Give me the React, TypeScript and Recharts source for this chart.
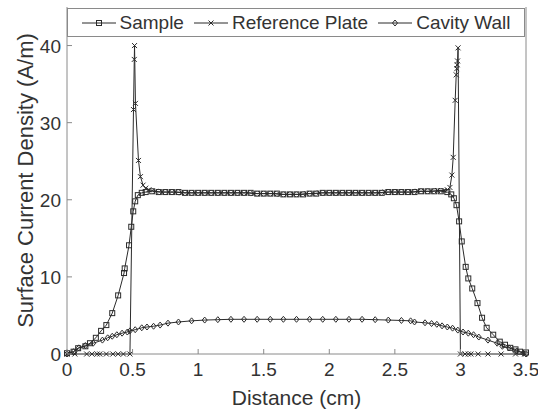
import { LineChart, Line, XAxis, YAxis } from "recharts"

// tick labels
const xTicks = [0, 0.5, 1, 1.5, 2, 2.5, 3, 3.5]
const yTicks = [0, 10, 20, 30, 40]

// Sample (squares)
const sampleX = [
    0, 0.05, 0.085, 0.14, 0.175, 0.22, 0.26, 0.3, 0.345, 0.39, 0.435, 0.44, 0.473, 0.49, 0.505, 0.52, 0.54, 0.57, 0.6, 0.65,
    0.7, 0.75, 0.8, 0.85, 0.9, 0.95, 1.0, 1.05, 1.1, 1.15, 1.2, 1.25, 1.3, 1.35, 1.4, 1.45, 1.5, 1.55, 1.6, 1.65, 1.7, 1.75,
    1.8, 1.85, 1.9, 1.95, 2.0, 2.05, 2.1, 2.15, 2.2, 2.25, 2.3, 2.35, 2.4, 2.45, 2.5, 2.55, 2.6, 2.65, 2.7, 2.75, 2.8,
    2.85, 2.9, 2.93, 2.95, 2.97, 2.99, 3.01, 3.04, 3.06, 3.09, 3.13, 3.165, 3.2, 3.25, 3.3, 3.34, 3.38, 3.42, 3.455, 3.5,
]
const sampleY = [
    0.1, 0.3, 0.75, 1.0, 1.4, 2.1, 3.0, 3.75, 5.3, 7.6, 10.5, 11.1, 14.1, 16.5, 18.5, 19.8, 20.6, 20.9, 21.0, 21.1,
    21.0, 21.0, 21.0, 21.0, 20.9, 20.9, 20.9, 20.9, 20.9, 20.9, 20.9, 20.9, 20.9, 20.9, 20.9, 20.8, 20.8, 20.8, 20.8, 20.7, 20.7, 20.7,
    20.7, 20.8, 20.8, 20.9, 20.9, 20.9, 20.9, 20.9, 20.9, 20.9, 20.9, 20.9, 20.9, 21.0, 21.0, 21.0, 21.0, 21.0, 21.1, 21.1, 21.1,
    21.1, 21.0, 20.7, 20.2, 19.3, 17.2, 14.6, 11.3, 9.8, 8.5, 6.6, 4.7, 3.4, 2.5, 1.6, 1.2, 0.8, 0.6, 0.3, 0.2,
]

// Reference Plate (crosses)
const refX = [
    0, 0.06, 0.15, 0.19, 0.23, 0.25, 0.3, 0.35, 0.39, 0.43, 0.48, 0.507, 0.513, 0.515, 0.522, 0.545, 0.56, 0.58, 0.6, 0.625,
    0.675, 0.725, 0.775, 0.825, 0.875, 0.925, 0.975, 1.025, 1.075, 1.125, 1.175, 1.225, 1.275, 1.325, 1.375, 1.425, 1.475,
    1.525, 1.575, 1.625, 1.675, 1.725, 1.775, 1.825, 1.875, 1.925, 1.975, 2.025, 2.075, 2.125, 2.175, 2.225, 2.275, 2.325,
    2.375, 2.425, 2.475, 2.525, 2.575, 2.625, 2.675, 2.725, 2.775, 2.825, 2.875, 2.9, 2.92, 2.935, 2.945, 2.96, 2.968,
    2.972, 2.975, 2.978, 2.982, 3.0, 3.035, 3.06, 3.08, 3.135, 3.21, 3.31, 3.42, 3.49,
]
const refY = [
    0, 0, 0, 0, 0, 0, 0, 0, 0, 0, 0, 31.7, 38.2, 40.0, 32.5, 25.1, 23.0, 21.9, 21.5, 21.3,
    21.1, 21.0, 21.0, 21.0, 20.9, 20.9, 20.9, 20.9, 20.9, 20.9, 20.9, 20.9, 20.9, 20.9, 20.9, 20.8, 20.8,
    20.8, 20.8, 20.7, 20.7, 20.7, 20.7, 20.8, 20.8, 20.9, 20.9, 20.9, 20.9, 20.9, 20.9, 20.9, 20.9, 20.9,
    20.9, 21.0, 21.0, 21.0, 21.0, 21.0, 21.1, 21.1, 21.1, 21.2, 21.2, 21.3, 21.6, 23.2, 25.5, 32.9, 36.2,
    37.0, 37.5, 38.0, 39.7, 0, 0, 0, 0, 0, 0, 0, 0, 0,
]

// Cavity Wall (diamonds)
const cavityX = [
    0, 0.05, 0.09, 0.14, 0.2, 0.27, 0.31, 0.345, 0.38, 0.42, 0.46, 0.48, 0.52, 0.57, 0.61, 0.66, 0.71, 0.77, 0.85, 0.95,
    1.05, 1.15, 1.25, 1.35, 1.45, 1.55, 1.65, 1.75, 1.85, 1.95, 2.05, 2.15, 2.25, 2.35, 2.45, 2.55, 2.62, 2.65, 2.73,
    2.78, 2.82, 2.86, 2.9, 2.94, 2.98, 3.02, 3.06, 3.1, 3.14, 3.21, 3.28, 3.32, 3.37, 3.43, 3.48, 3.5,
]
const cavityY = [
    0, 0.3, 0.8, 1.1, 1.4, 1.8, 2.1, 2.3, 2.5, 2.7, 2.85, 3.0, 3.15, 3.4, 3.5, 3.6, 3.75, 4.0, 4.15, 4.3,
    4.4, 4.45, 4.5, 4.5, 4.5, 4.5, 4.5, 4.5, 4.5, 4.5, 4.5, 4.5, 4.5, 4.45, 4.4, 4.35, 4.3, 4.15, 4.05,
    3.95, 3.85, 3.65, 3.5, 3.35, 3.1, 2.85, 2.7, 2.5, 2.2, 1.8, 1.4, 1.0, 0.8, 0.4, 0.1, 0,
]

const toRows = (xs: number[], ys: number[]) => xs.map((x, i) => ({ x, y: ys[i] }))
const sampleData = toRows(sampleX, sampleY)
const refData = toRows(refX, refY)
const cavityData = toRows(cavityX, cavityY)

const INK = "#2b2b2b"
const AXIS = "#8a8a8a"
const FONT = "'Liberation Sans', Arial, sans-serif"

const SquareMark = ({ cx, cy }: { cx: number; cy: number }) => (
    <rect x={cx - 2.5} y={cy - 2.5} width={5} height={5} fill="none" stroke={INK} strokeWidth={1} />
)
const CrossMark = ({ cx, cy }: { cx: number; cy: number }) => (
    <path d={`M${cx - 2.5},${cy - 2.5}L${cx + 2.5},${cy + 2.5}M${cx - 2.5},${cy + 2.5}L${cx + 2.5},${cy - 2.5}`} stroke={INK} strokeWidth={1} />
)
const DiamondMark = ({ cx, cy }: { cx: number; cy: number }) => (
    <path d={`M${cx},${cy - 3}L${cx + 2.5},${cy}L${cx},${cy + 3}L${cx - 2.5},${cy}Z`} fill="none" stroke={INK} strokeWidth={1} />
)

const dotOf = (Mark: typeof SquareMark, tag: string) => (p: any) => <Mark key={`${tag}-${p.index}`} cx={p.cx} cy={p.cy} />

const BottomTick = (p: any) => (
    <g>
        <line x1={p.x} x2={p.x} y1={p.y} y2={p.y - 5} stroke={AXIS} />
        <text x={p.x} y={p.y + 22} textAnchor="middle" fontSize={19} fill="#333" fontFamily={FONT}>{p.payload.value}</text>
    </g>
)
const LeftTick = (p: any) => (
    <g>
        <line x1={p.x} x2={p.x + 5} y1={p.y} y2={p.y} stroke={AXIS} />
        <text x={p.x - 6} y={p.y + 7} textAnchor="end" fontSize={19} fill="#333" fontFamily={FONT}>{p.payload.value}</text>
    </g>
)
const RightTick = (p: any) => <line x1={p.x} x2={p.x - 5} y1={p.y} y2={p.y} stroke={AXIS} />

const LegendIcon = ({ Mark }: { Mark: typeof SquareMark }) => (
    <svg width={34} height={10} style={{ marginRight: 4 }}>
        <line x1={0} x2={34} y1={5} y2={5} stroke={INK} strokeWidth={1} />
        <Mark cx={17} cy={5} />
    </svg>
)

const legendItems = [
    { name: "Sample", Mark: SquareMark },
    { name: "Reference Plate", Mark: CrossMark },
    { name: "Cavity Wall", Mark: DiamondMark },
]

export default function App() {
    return (
        <div style={{ position: "absolute", left: 0, top: 0, width: 538, height: 411, background: "#fff" }}>
            <LineChart width={538} height={411} margin={{ top: 7, right: 0, bottom: 0, left: 0 }}>
                <XAxis
                    type="number"
                    dataKey="x"
                    domain={[0, 3.5]}
                    ticks={xTicks}
                    height={57}
                    tickSize={0}
                    tickMargin={0}
                    tickLine={false}
                    axisLine={{ stroke: AXIS }}
                    tick={BottomTick}
                    interval={0}
                    label={{
                        content: (props: any) => {
                            const vb = props.viewBox
                            return (
                                <text x={vb.x + vb.width / 2} y={vb.y + 51} textAnchor="middle" fontSize={21} fill="#333" fontFamily={FONT}>
                                    Distance (cm)
                                </text>
                            )
                        },
                    }}
                />
                <XAxis xAxisId="top" orientation="top" type="number" domain={[0, 3.5]} height={0} tick={false} tickLine={false} axisLine={{ stroke: AXIS }} />
                <YAxis
                    type="number"
                    domain={[0, 45]}
                    ticks={yTicks}
                    width={67}
                    tickSize={0}
                    tickMargin={0}
                    tickLine={false}
                    axisLine={{ stroke: AXIS }}
                    tick={LeftTick}
                    interval={0}
                    label={{
                        content: (props: any) => {
                            const vb = props.viewBox
                            const cy = vb.y + vb.height / 2
                            return (
                                <text x={25} y={cy} transform={`rotate(-90 25 ${cy})`} textAnchor="middle" dominantBaseline="central" fontSize={22} fill="#333" fontFamily={FONT}>
                                    Surface Current Density (A/m)
                                </text>
                            )
                        },
                    }}
                />
                <YAxis
                    yAxisId="right"
                    orientation="right"
                    type="number"
                    domain={[0, 45]}
                    ticks={yTicks}
                    width={12}
                    tickSize={0}
                    tickMargin={0}
                    tickLine={false}
                    axisLine={{ stroke: AXIS }}
                    tick={RightTick}
                    interval={0}
                />
                <Line data={sampleData} dataKey="y" name="Sample" type="linear" stroke={INK} strokeWidth={1} dot={dotOf(SquareMark, "s")} activeDot={false} isAnimationActive={false} />
                <Line data={refData} dataKey="y" name="Reference Plate" type="linear" stroke={INK} strokeWidth={1} dot={dotOf(CrossMark, "r")} activeDot={false} isAnimationActive={false} />
                <Line data={cavityData} dataKey="y" name="Cavity Wall" type="linear" stroke={INK} strokeWidth={1} dot={dotOf(DiamondMark, "c")} activeDot={false} isAnimationActive={false} />
            </LineChart>
            <div
                style={{
                    position: "absolute",
                    left: 67,
                    top: 8,
                    width: 458,
                    height: 29,
                    boxSizing: "border-box",
                    border: `1px solid ${AXIS}`,
                    background: "#fff",
                    display: "flex",
                    alignItems: "center",
                    justifyContent: "center",
                    fontFamily: FONT,
                    fontSize: 19,
                    color: "#333",
                    whiteSpace: "nowrap",
                }}
            >
                {legendItems.map((it, i) => (
                    <span key={it.name} style={{ display: "flex", alignItems: "center", marginLeft: i === 0 ? 0 : 10 }}>
                        <LegendIcon Mark={it.Mark} />
                        {it.name}
                    </span>
                ))}
            </div>
        </div>
    )
}
